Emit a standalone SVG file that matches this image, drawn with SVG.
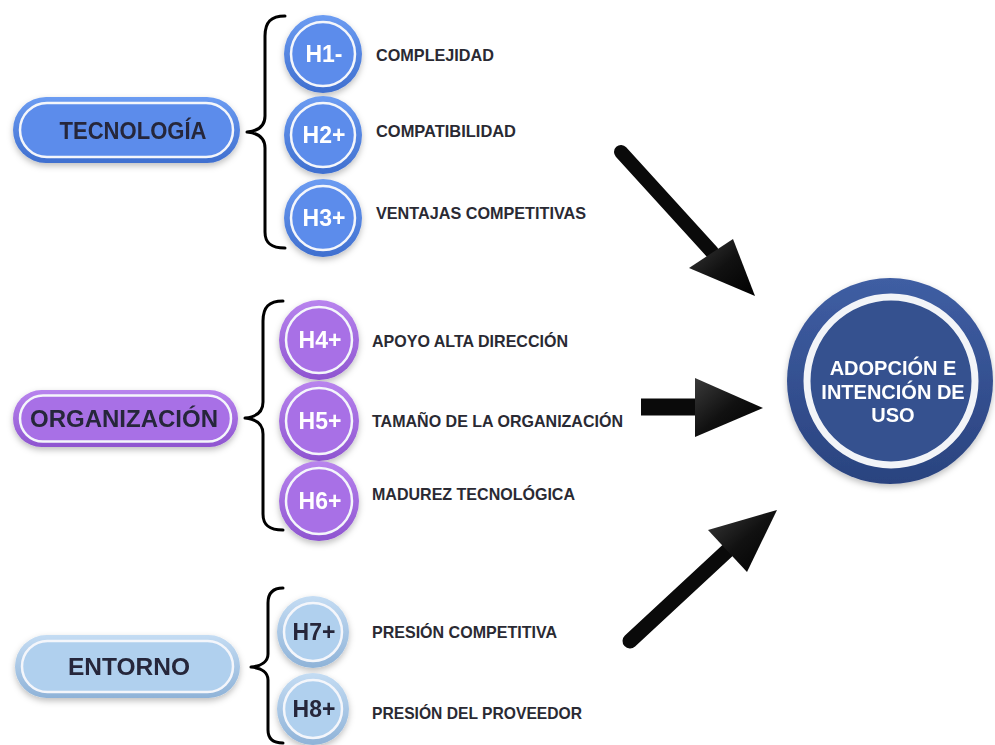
<svg xmlns="http://www.w3.org/2000/svg" width="995" height="745" viewBox="0 0 995 745">
<style>
.lbl{font-family:"Liberation Sans",Arial,sans-serif;font-weight:bold;font-size:16.5px;fill:#2a2a33}
.pt{font-family:"Liberation Sans",Arial,sans-serif;font-weight:bold;font-size:24px;fill:#26283a;text-anchor:middle}
.ht{font-family:"Liberation Sans",Arial,sans-serif;font-weight:bold;font-size:23px;fill:#ffffff;text-anchor:middle}
.htd{fill:#26283a}
.ct{font-family:"Liberation Sans",Arial,sans-serif;font-weight:bold;font-size:20px;fill:#ffffff;text-anchor:middle}
.brace{fill:none;stroke:#000;stroke-width:3;stroke-linecap:round;stroke-linejoin:round}
.ring{stroke:#f4f6fb;stroke-width:2.5}
.shaft{stroke:#0a0a0a}
</style>
<defs>
<filter id="sh" x="-20%" y="-20%" width="140%" height="150%">
<feDropShadow dx="0" dy="3" stdDeviation="3" flood-color="#000" flood-opacity="0.25"/>
</filter>
<linearGradient id="gb" x1="0" y1="0" x2="0" y2="1"><stop offset="0" stop-color="#6c9cf2"/><stop offset="1" stop-color="#3f6fcf"/></linearGradient>
<linearGradient id="gp" x1="0" y1="0" x2="0" y2="1"><stop offset="0" stop-color="#b884ee"/><stop offset="1" stop-color="#8e55d0"/></linearGradient>
<linearGradient id="gl" x1="0" y1="0" x2="0" y2="1"><stop offset="0" stop-color="#c4dcf3"/><stop offset="1" stop-color="#8fb3d8"/></linearGradient>
<linearGradient id="gn" x1="0" y1="0" x2="0" y2="1"><stop offset="0" stop-color="#3f5ea3"/><stop offset="1" stop-color="#2a437f"/></linearGradient>
<linearGradient id="cone" x1="0" y1="0" x2="1" y2="1"><stop offset="0" stop-color="#3a3a3a"/><stop offset="0.5" stop-color="#111"/><stop offset="1" stop-color="#000"/></linearGradient>
</defs>

<g id="tecnologia" filter="url(#sh)">
<rect x="13" y="97" width="227" height="66" rx="33" fill="url(#gb)"/>
<rect x="20" y="103" width="213" height="54" rx="27" fill="#5b8ceb" class="ring"/>
<text class="pt" x="133" y="139" textLength="147" lengthAdjust="spacingAndGlyphs">TECNOLOGÍA</text>
</g>
<g id="organizacion" filter="url(#sh)">
<rect x="13" y="390" width="225" height="57" rx="28.5" fill="url(#gp)"/>
<rect x="20" y="395.5" width="211" height="46" rx="23" fill="#a870e6" class="ring"/>
<text class="pt" x="124" y="427" textLength="188" lengthAdjust="spacingAndGlyphs">ORGANIZACIÓN</text>
</g>
<g id="entorno" filter="url(#sh)">
<rect x="15" y="635" width="225" height="63" rx="31.5" fill="url(#gl)"/>
<rect x="22" y="641" width="211" height="51" rx="25.5" fill="#b0d0ee" class="ring"/>
<text class="pt" x="129" y="675" textLength="122" lengthAdjust="spacingAndGlyphs">ENTORNO</text>
</g>

<g id="braces">
<path class="brace" d="M285,16 C271,16 265,22 265,36 L265,116 C265,126 258,131 247,132 C258,133 265,138 265,148 L265,232 C265,243 271,248 285,248"/>
<path class="brace" d="M283,301 C269,301 263,307 263,321 L263,402 C263,412 256,417 245,418 C256,419 263,424 263,434 L263,514 C263,525 269,530 283,530"/>
<path class="brace" d="M283,588 C273,588 268,593 268,603 L268,654 C268,661 262,666 251,667 C262,668 268,673 268,680 L268,730 C268,739 273,743 283,743"/>
</g>

<g id="h1" filter="url(#sh)"><circle cx="323" cy="54" r="39" fill="url(#gb)"/><circle cx="323" cy="54" r="32" fill="#5b8ceb" class="ring"/><text class="ht" x="324" y="62">H1-</text></g>
<g id="h2" filter="url(#sh)"><circle cx="323" cy="135" r="39" fill="url(#gb)"/><circle cx="323" cy="135" r="32" fill="#5b8ceb" class="ring"/><text class="ht" x="324" y="143">H2+</text></g>
<g id="h3" filter="url(#sh)"><circle cx="323" cy="218" r="39" fill="url(#gb)"/><circle cx="323" cy="218" r="32" fill="#5b8ceb" class="ring"/><text class="ht" x="324" y="226">H3+</text></g>

<g id="h4" filter="url(#sh)"><circle cx="319" cy="340" r="40" fill="url(#gp)"/><circle cx="319" cy="340" r="33" fill="#a870e6" class="ring"/><text class="ht" x="320" y="348">H4+</text></g>
<g id="h5" filter="url(#sh)"><circle cx="319" cy="421" r="40" fill="url(#gp)"/><circle cx="319" cy="421" r="33" fill="#a870e6" class="ring"/><text class="ht" x="320" y="429">H5+</text></g>
<g id="h6" filter="url(#sh)"><circle cx="319" cy="501" r="40" fill="url(#gp)"/><circle cx="319" cy="501" r="33" fill="#a870e6" class="ring"/><text class="ht" x="320" y="509">H6+</text></g>

<g id="h7" filter="url(#sh)"><circle cx="313" cy="632" r="36" fill="url(#gl)"/><circle cx="313" cy="632" r="29" fill="#b0d0ee" class="ring"/><text class="ht htd" x="314" y="640">H7+</text></g>
<g id="h8" filter="url(#sh)"><circle cx="313" cy="709" r="36" fill="url(#gl)"/><circle cx="313" cy="709" r="29" fill="#b0d0ee" class="ring"/><text class="ht htd" x="314" y="717">H8+</text></g>

<g id="labels">
<text class="lbl" x="376" y="61" textLength="118" lengthAdjust="spacingAndGlyphs">COMPLEJIDAD</text>
<text class="lbl" x="376" y="137" textLength="140" lengthAdjust="spacingAndGlyphs">COMPATIBILIDAD</text>
<text class="lbl" x="376" y="219" textLength="210" lengthAdjust="spacingAndGlyphs">VENTAJAS COMPETITIVAS</text>
<text class="lbl" x="372" y="347" textLength="196" lengthAdjust="spacingAndGlyphs">APOYO ALTA DIRECCIÓN</text>
<text class="lbl" x="372" y="427" textLength="251" lengthAdjust="spacingAndGlyphs">TAMAÑO DE LA ORGANIZACIÓN</text>
<text class="lbl" x="372" y="500" textLength="203" lengthAdjust="spacingAndGlyphs">MADUREZ TECNOLÓGICA</text>
<text class="lbl" x="372" y="638" textLength="185" lengthAdjust="spacingAndGlyphs">PRESIÓN COMPETITIVA</text>
<text class="lbl" x="372" y="719" textLength="210" lengthAdjust="spacingAndGlyphs">PRESIÓN DEL PROVEEDOR</text>
</g>

<g id="adopcion" filter="url(#sh)">
<circle cx="890" cy="381" r="103" fill="url(#gn)"/>
<circle cx="891" cy="381" r="84" fill="#34518f" stroke="#f2f4f8" stroke-width="7"/>
<text class="ct" x="893" y="375">ADOPCIÓN E</text>
<text class="ct" x="893" y="399">INTENCIÓN DE</text>
<text class="ct" x="893" y="422">USO</text>
</g>

<g id="connectors">
<line class="shaft" x1="621" y1="152" x2="712" y2="252" stroke-width="14" style="stroke-linecap:round"/>
<polygon points="689,268 733,239 755,296" fill="url(#cone)"/>
<line class="shaft" x1="641" y1="407" x2="700" y2="407" stroke-width="17" style="stroke-linecap:butt"/>
<polygon points="695,378 695,437 763,408" fill="url(#cone)"/>
<line class="shaft" x1="630" y1="641" x2="727" y2="551" stroke-width="15" style="stroke-linecap:round"/>
<polygon points="708,530 747,572 777,510" fill="url(#cone)"/>
</g>
</svg>
